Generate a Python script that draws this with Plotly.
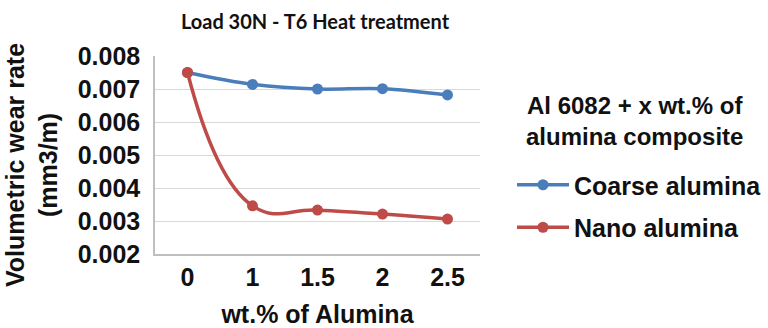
import plotly.graph_objects as go

categories = ["0", "1", "1.5", "2", "2.5"]
coarse = [0.0075, 0.00714, 0.00700, 0.00701, 0.00682]
nano = [0.0075, 0.00346, 0.00333, 0.00321, 0.00306]
y_ticks = [0.002, 0.003, 0.004, 0.005, 0.006, 0.007, 0.008]

BLUE = "#4a7ebb"
RED = "#be4b48"
FONT = "Liberation Sans"

fig = go.Figure()
fig.add_trace(go.Scatter(
    x=categories, y=coarse, name="Coarse alumina", mode="lines+markers", legendgroup="c",
    line=dict(color=BLUE, width=3.5, shape="spline", smoothing=1.0),
    marker=dict(color=BLUE, size=11),
))
fig.add_trace(go.Scatter(
    x=categories, y=nano, name="Nano alumina", mode="lines+markers", legendgroup="n",
    line=dict(color=RED, width=3.5, shape="spline", smoothing=1.3),
    marker=dict(color=RED, size=11),
))

fig.update_layout(
    width=768, height=328,
    margin=dict(l=155, r=288, t=56, b=74),
    paper_bgcolor="white", plot_bgcolor="white",
    font=dict(family=FONT, size=25, color="#111111", weight="bold"),
    title=dict(text="Load 30N - T6 Heat treatment", x=(185 + 445) / 2 / 768, xanchor="center",
               y=1 - 22 / 328, yanchor="middle",
               font=dict(family="Lato", size=20, weight="bold", color="#111111")),
    showlegend=True,
    legend=dict(
        xref="container", yref="container",
        x=512 / 768, xanchor="left", y=1 - 162 / 328, yanchor="top",
        font=dict(family=FONT, size=25, weight="bold"),
        tracegroupgap=7, itemwidth=52, maxheight=1,
        bgcolor="rgba(0,0,0,0)",
    ),
    xaxis=dict(
        type="category", showgrid=False, showline=True, linecolor="#bfbfbf", linewidth=1.5,
        ticks="", tickfont=dict(size=25, weight="bold"), automargin=False,
        title=dict(text="wt.% of Alumina", font=dict(size=25, weight="bold"), standoff=16),
        range=[-0.5, 4.5],
    ),
    yaxis=dict(
        range=[0.002, 0.008], tickvals=y_ticks, tickformat=".3f", automargin=False,
        showgrid=True, gridcolor="#d9d9d9", gridwidth=1.2,
        showline=True, linecolor="#bfbfbf", linewidth=1.5,
        ticks="", tickfont=dict(size=25, weight="bold"), zeroline=False, ticklabelstandoff=8,
    ),
    annotations=[
        dict(
            text="Volumetric wear rate<br>(mm3/m)", textangle=-90, showarrow=False,
            xref="paper", yref="paper", x=(31 - 155) / 325, y=(328 - 74 - 165) / 198,
            xanchor="center", yanchor="middle",
            font=dict(family=FONT, size=25, weight="bold", color="#111111"),
        ),
        dict(
            text="Al 6082 + x wt.% of<br>alumina composite", showarrow=False,
            xref="paper", yref="paper", x=(634 - 155) / 325, y=(328 - 74 - 121) / 198,
            xanchor="center", yanchor="middle", align="center",
            font=dict(family=FONT, size=24, weight="bold", color="#111111"),
        ),
    ],
)

fig.write_html("out.html")
